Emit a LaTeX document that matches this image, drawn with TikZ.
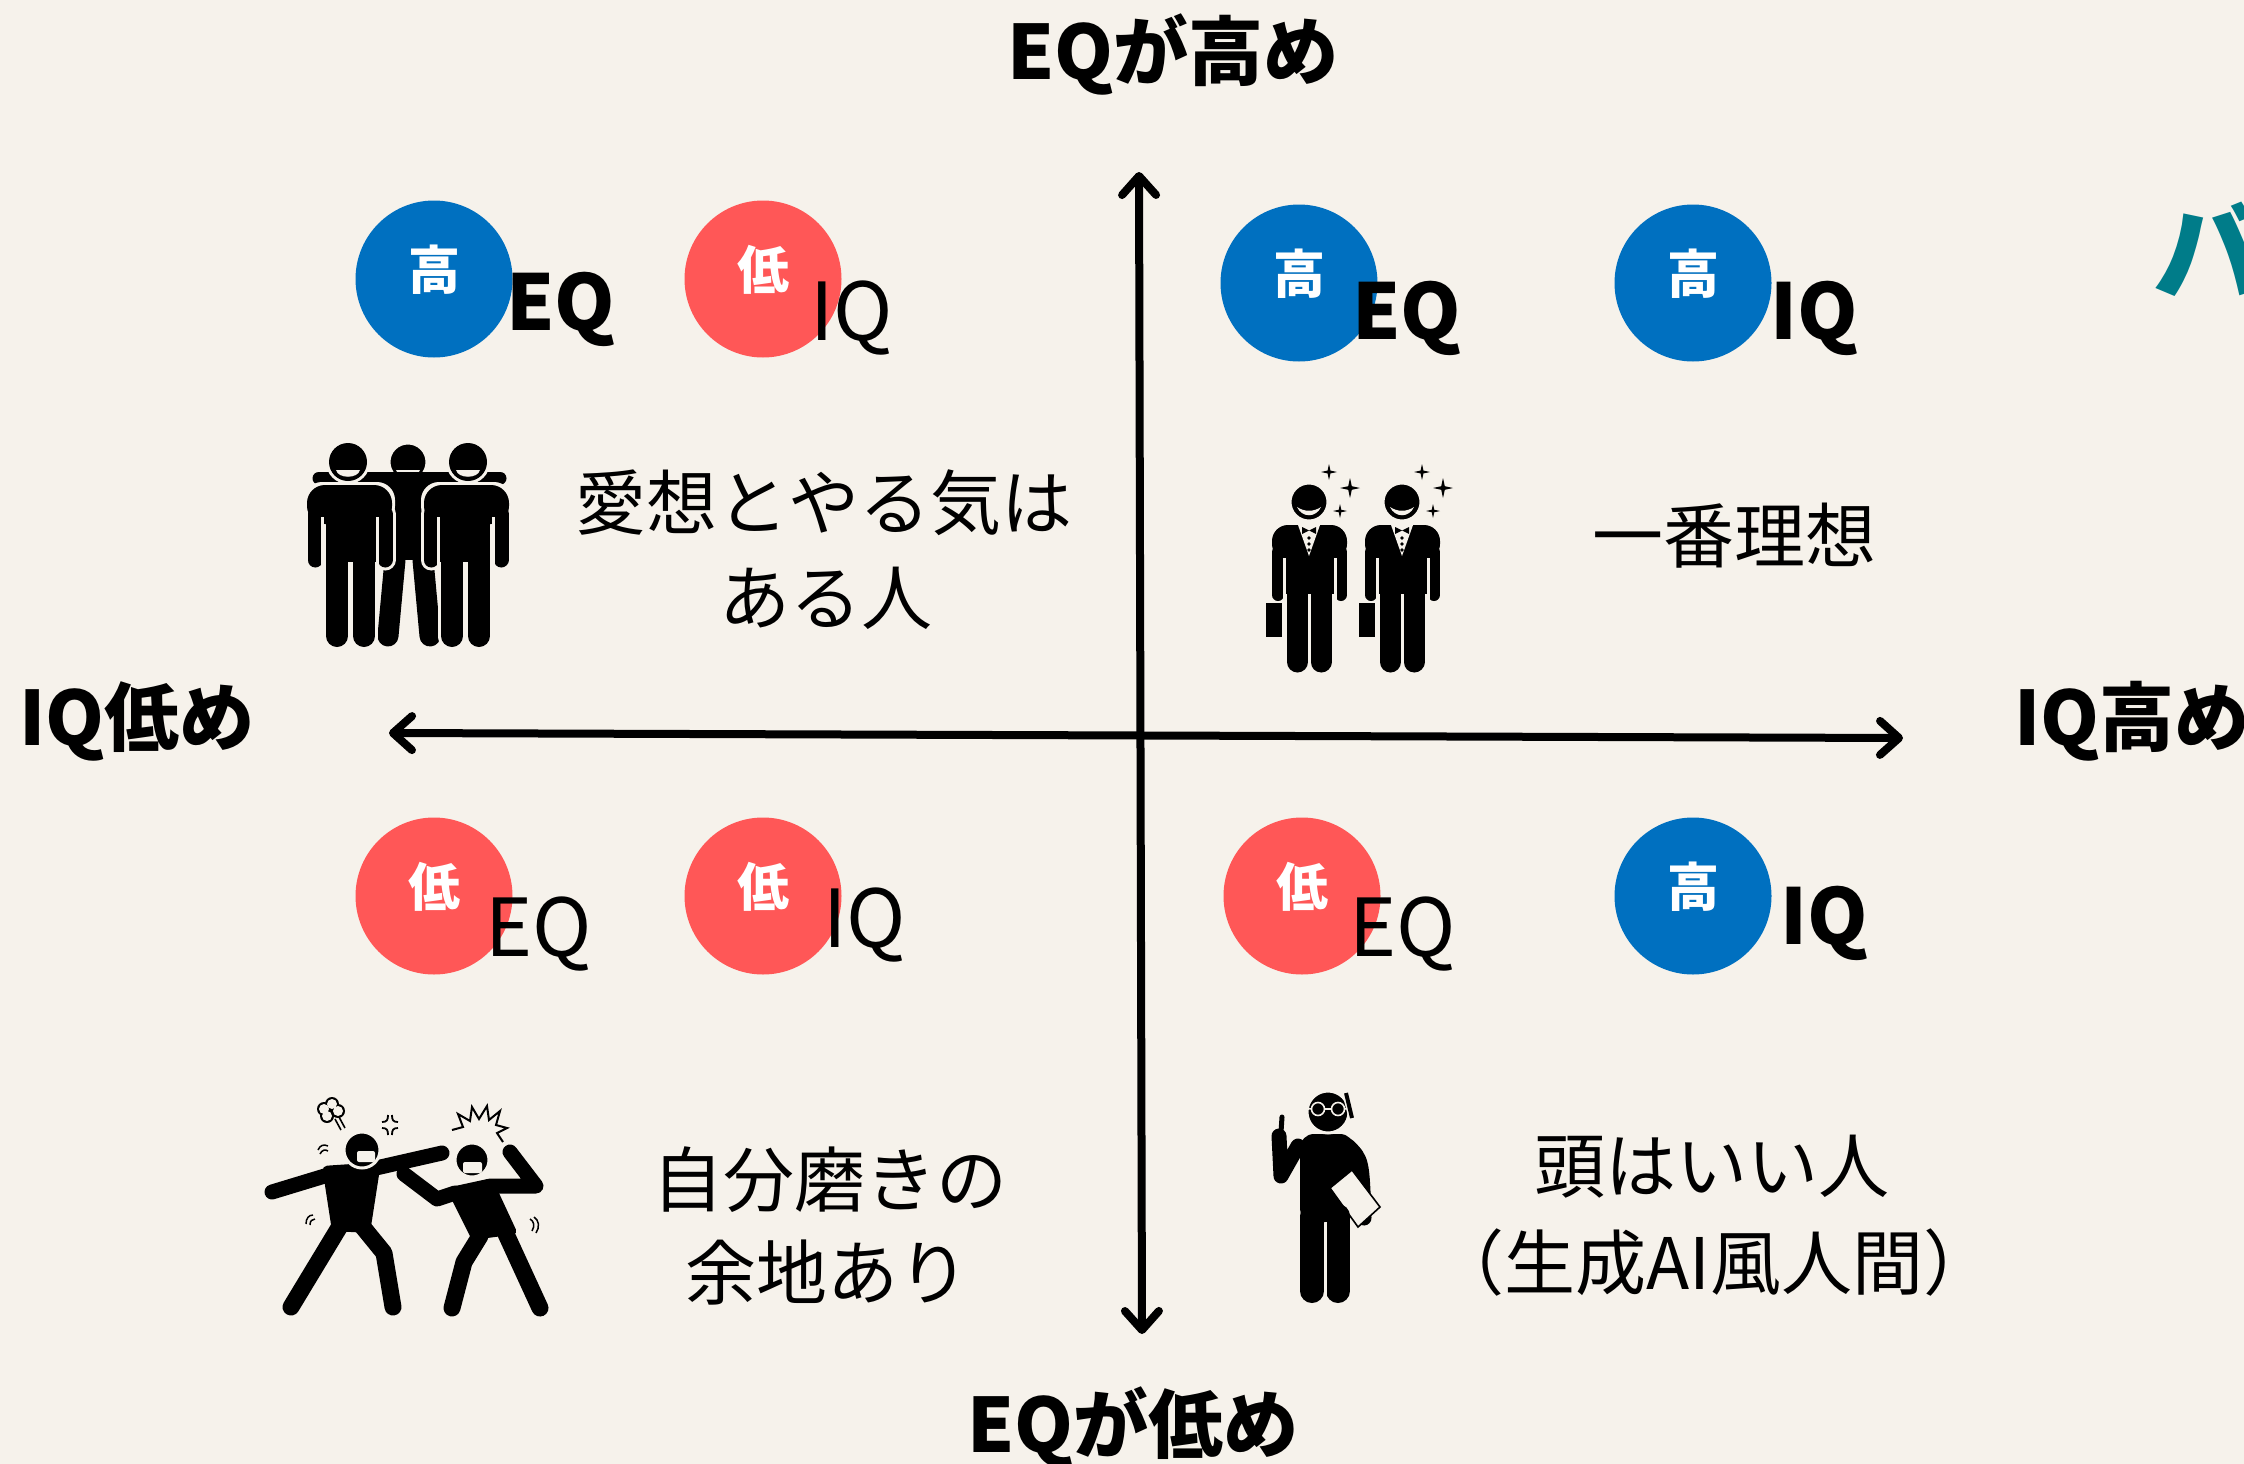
\documentclass[tikz,border=0pt]{standalone}
\usepackage{fontspec}
\setmainfont{Noto Sans CJK JP}
\usetikzlibrary{arrows.meta}
\definecolor{paper}{RGB}{246,242,235}
\definecolor{hiblue}{RGB}{0,112,192}
\definecolor{lored}{RGB}{255,87,87}
\definecolor{titleteal}{RGB}{0,124,137}

\tikzset{
  barb/.tip={Straight Barb[length=19pt,width=34pt,line width=8pt,round]},
  axis/.style={line width=8pt, line cap=round, barb-barb},
  axislabel/.style={anchor=base, inner sep=0pt, font=\fontsize{75}{84}\selectfont\bfseries},
  caption/.style={anchor=base, inner sep=0pt, font=\fontsize{71}{83}\selectfont},
  badge/.style={circle, minimum size=157pt, inner sep=0pt},
  high/.style={badge, fill=hiblue},
  low/.style={badge, fill=lored},
  badgechar/.style={text=white, inner sep=0pt, font=\fontsize{52}{56}\selectfont\bfseries},
  tagbold/.style={anchor=base west, inner sep=0pt, font=\fontsize{77}{84}\selectfont\bfseries},
  tagplain/.style={anchor=base west, inner sep=0pt, font=\fontsize{80}{86}\selectfont},
  limb/.style={draw=black, line cap=round, line join=round, line width=#1},
  limb/.default=15pt,
  gap/.style={draw=paper, line width=2.5pt},
  % one standing friend, origin at the head centre; drawn with a paper halo
  pics/pal/.style={code={
    \foreach \col/\h in {paper/3,black/0}{
      \fill[\col, rounded corners=18pt] (-41-\h,23-\h) rectangle (44+\h,62);
      \fill[\col] (-22-\h,45) rectangle (29+\h,100);
      \draw[\col, line width=15pt+2*\h pt, line cap=round] (-33,52) -- (-33,98);
      \draw[\col, line width=15pt+2*\h pt, line cap=round] (37,52) -- (37,98);
      \draw[\col, line width=22pt+2*\h pt, line cap=round] (-11,100) -- (-11,174);
      \draw[\col, line width=22pt+2*\h pt, line cap=round] (16,100) -- (16,174);
      \fill[\col] (0,0) circle[radius=19+\h];
    }
    \draw[gap] (-25.5,55) -- (-25.5,106);
    \draw[gap] (29.5,55) -- (29.5,106);
    \fill[paper] (-12,8) .. controls (-10,17) and (10,17) .. (12,8) -- cycle;
  }},
  % a man in a tuxedo with a briefcase, origin at the head centre
  pics/suit/.style={code={
    \fill[rounded corners=16pt] (-37,23) rectangle (38,58);
    \fill (-24,40) rectangle (26,92);
    \draw[limb=12pt] (-31,50) -- (-31,93);
    \draw[limb=12pt] (32,50) -- (32,93);
    \draw[gap] (-24.5,56) -- (-24.5,100);
    \draw[gap] (26.5,56) -- (26.5,100);
    \draw[limb=21pt] (-11.5,90) -- (-11.5,160);
    \draw[limb=21pt] (12,90) -- (12,160);
    \draw[paper, line width=2pt] (0.25,100) -- (0.25,172);
    \fill[paper] (-11,23) -- (11,23) -- (0,54) -- cycle;
    \fill (-7,25) -- (-7,32) -- (0,28.5) -- cycle;
    \fill (7,25) -- (7,32) -- (0,28.5) -- cycle;
    \foreach \yy in {36,42,48} \fill (0,\yy) circle[radius=1.8];
    \fill (-43,101) rectangle (-27,135);
    \fill[draw=paper, line width=3pt] (0,0) circle[radius=19];
    \fill[paper] (-12,5) .. controls (-7,16) and (7,16) .. (12,5)
                 .. controls (5,10) and (-5,10) .. cycle;
  }},
  pics/spark/.style={code={
    \fill (0,-1) -- (0.18,-0.18) -- (1,0) -- (0.18,0.18) -- (0,1)
          -- (-0.18,0.18) -- (-1,0) -- (-0.18,-0.18) -- cycle;
  }},
}

\begin{document}
\begin{tikzpicture}[x=1pt, y=-1pt]
\fill[paper] (0,0) rectangle (2244,1464);
\useasboundingbox (0,0) rectangle (2244,1464);

% ---------- axes ----------
\coordinate (ytop) at (1139,172);
\coordinate (ybot) at (1142,1334);
\coordinate (xleft) at (389,733);
\coordinate (xright) at (1903,738);
\draw[axis] (ybot) -- (ytop);
\draw[axis] (xleft) -- (xright);

\node[axislabel] (eqhigh) at (1173,80) {EQが高め};
\node[axislabel] (eqlow) at (1133,1452) {EQが低め};
\node[axislabel, anchor=base west] (iqlow) at (19,745) {IQ低め};
\node[axislabel, anchor=base west] (iqhigh) at (2014,745) {IQ高め};
\node[anchor=base west, inner sep=0pt, text=titleteal,
      font=\fontsize{112}{120}\selectfont\bfseries] (title) at (2153,292) {バ};

% ---------- badges ----------
\node[high] (btl1) at (434,279) {};
\node[badgechar] (ctl1) at ([yshift=9pt]btl1.center) {高};
\node[tagbold] (ttl1) at (506,330) {EQ};
\node[low] (btl2) at (763,279) {};
\node[badgechar] (ctl2) at ([yshift=9pt]btl2.center) {低};
\node[tagplain] (ttl2) at (810,340) {IQ};

\node[high] (btr1) at (1299,283) {};
\node[badgechar] (ctr1) at ([yshift=9pt]btr1.center) {高};
\node[tagbold] (ttr1) at (1352,339) {EQ};
\node[high] (btr2) at (1693,283) {};
\node[badgechar] (ctr2) at ([yshift=9pt]btr2.center) {高};
\node[tagbold] (ttr2) at (1770,339) {IQ};

\node[low] (bbl1) at (434,896) {};
\node[badgechar] (cbl1) at ([yshift=9pt]bbl1.center) {低};
\node[tagplain] (tbl1) at (485,956) {EQ};
\node[low] (bbl2) at (763,896) {};
\node[badgechar] (cbl2) at ([yshift=9pt]bbl2.center) {低};
\node[tagplain] (tbl2) at (823,947) {IQ};

\node[low] (bbr1) at (1302,896) {};
\node[badgechar] (cbr1) at ([yshift=9pt]bbr1.center) {低};
\node[tagplain] (tbr1) at (1349,956) {EQ};
\node[high] (bbr2) at (1693,896) {};
\node[badgechar] (cbr2) at ([yshift=9pt]bbr2.center) {高};
\node[tagbold] (tbr2) at (1780,944) {IQ};

% ---------- captions ----------
\node[caption] (q1a) at (824,529) {愛想とやる気は};
\node[caption] (q1b) at (826,624) {ある人};
\node[caption] (q2a) at (1734,562) {一番理想};
\node[caption] (q3a) at (830,1206) {自分磨きの};
\node[caption] (q3b) at (827,1299) {余地あり};
\node[caption] (q4a) at (1712,1192) {頭はいい人};
\node[caption] (q4b) at (1714,1289) {（生成AI風人間）};

% ---------- three friends ----------
\fill (385,485) rectangle (432,560);
\draw[limb=21pt] (395,560) -- (388,636);
\draw[limb=21pt] (423,560) -- (430,636);
\fill[draw=paper, line width=3pt] (408,462) circle[radius=19];
\fill[paper] (396,470) .. controls (398,479) and (418,479) .. (420,470) -- cycle;
\draw[limb=13pt] (319,478) -- (500,478);
\pic at (348,462) {pal};
\pic[xscale=-1] at (468,462) {pal};

% ---------- two gentlemen ----------
\pic at (1309,502) {suit};
\pic at (1402,502) {suit};
\pic[scale=8] at (1329,472) {spark};
\pic[scale=10] at (1350,488) {spark};
\pic[scale=7] at (1340,511) {spark};
\pic[scale=8] at (1422,472) {spark};
\pic[scale=10] at (1443,488) {spark};
\pic[scale=7] at (1433,511) {spark};

% ---------- the quarrel ----------
\fill[rounded corners=5pt] (322,1166) -- (381,1162) -- (370,1233) -- (332,1231) -- cycle;
\draw[limb=15pt] (328,1175) -- (272,1192);
\draw[limb=15pt] (376,1168) -- (442,1153);
\draw[limb=17pt] (340,1226) -- (291,1307);
\draw[limb=17pt] (362,1226) -- (384,1253) -- (393,1307);
\fill[draw=paper, line width=3pt] (362,1150) circle[radius=18];
\fill[paper, rounded corners=2pt] (357,1151) rectangle (375,1162);

\fill[rounded corners=5pt] (446,1188) -- (492,1178) -- (518,1234) -- (472,1240) -- cycle;
\draw[limb=15pt] (455,1193) -- (437,1199) -- (404,1174);
\draw[limb=15pt] (490,1186) -- (536,1186) -- (510,1152);
\draw[limb=17pt] (480,1236) -- (464,1262) -- (452,1308);
\draw[limb=17pt] (506,1234) -- (540,1308);
\fill[draw=paper, line width=3pt] (472,1160) circle[radius=17];
\fill[paper, rounded corners=2pt] (463,1162) rectangle (482,1173);

% steam puff
\foreach \p in {(324,1109),(332,1104),(338,1111),(327,1116)} \fill \p circle[radius=7];
\foreach \p in {(324,1109),(332,1104),(338,1111),(327,1116)} \fill[paper] \p circle[radius=5];
\draw[line width=1.6pt] (335,1119) -- (341,1130);
\draw[line width=1.6pt] (339,1117) -- (345,1128);
% anger mark
\draw[line width=1.8pt] (382,1122) .. controls (387,1122) and (388,1120) .. (388,1115);
\draw[line width=1.8pt] (398,1122) .. controls (393,1122) and (392,1120) .. (392,1115);
\draw[line width=1.8pt] (382,1128) .. controls (387,1128) and (388,1130) .. (388,1135);
\draw[line width=1.8pt] (398,1128) .. controls (393,1128) and (392,1130) .. (392,1135);
% burst
\draw[line width=2pt, line join=miter] (452,1130) -- (463,1127) -- (458,1114) -- (470,1121)
  -- (472,1107) -- (479,1119) -- (487,1106) -- (489,1120) -- (500,1111) -- (496,1125)
  -- (507,1128) -- (497,1133) -- (503,1142);
% motion marks
\draw[line width=1.5pt] (318,1150) .. controls (320,1145) and (324,1144) .. (328,1146);
\draw[line width=1.5pt] (320,1154) .. controls (322,1150) and (325,1149) .. (328,1151);
\draw[line width=1.5pt] (306,1224) .. controls (306,1218) and (309,1215) .. (313,1215);
\draw[line width=1.5pt] (310,1225) .. controls (310,1221) and (312,1219) .. (315,1219);
\draw[line width=1.5pt] (530,1219) .. controls (534,1221) and (535,1226) .. (532,1231);
\draw[line width=1.5pt] (534,1217) .. controls (539,1220) and (540,1227) .. (536,1233);

% ---------- the bookworm ----------
\draw[limb=15pt] (1298,1146) -- (1281,1176) -- (1279,1136);
\draw[limb=5pt] (1281,1132) -- (1282,1117);
\fill[rounded corners=14pt] (1300,1134) rectangle (1354,1222);
\draw[limb=15pt] (1348,1146) .. controls (1362,1160) .. (1364,1218);
\filldraw[fill=paper, draw=black, line width=1.6pt]
  (1330,1188) -- (1352,1170) -- (1380,1207) -- (1358,1227) -- cycle;
\draw[limb=24pt] (1312,1216) -- (1312,1291);
\draw[limb=24pt] (1338,1216) -- (1338,1291);
\draw[paper, line width=2pt] (1325.5,1222) -- (1325.5,1305);
\fill[draw=paper, line width=3pt] (1328,1112) circle[radius=21];
\draw[paper, line width=1.6pt] (1318,1109) circle[radius=6.5];
\draw[paper, line width=1.6pt] (1338,1109) circle[radius=6.5];
\draw[paper, line width=1.6pt] (1324.5,1109) -- (1331.5,1109);
\draw[paper, line width=1.6pt] (1305,1108) -- (1311.5,1109);
\draw[paper, line width=1.6pt] (1344.5,1109) -- (1350,1108);
\draw[paper, line width=7pt] (1346,1094) -- (1352,1118);
\draw[black, line width=4pt] (1346,1093) -- (1352,1118);
\end{tikzpicture}
\end{document}
